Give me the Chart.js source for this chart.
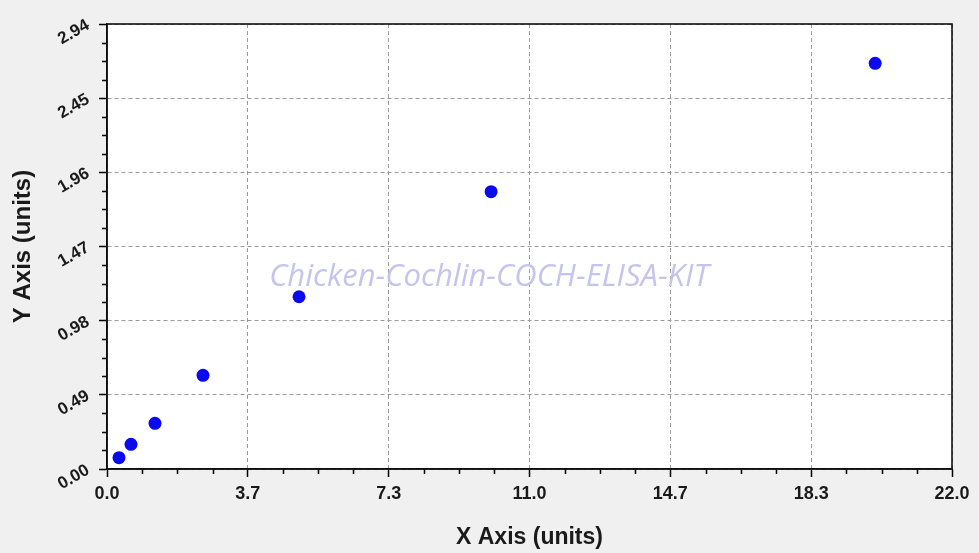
<!DOCTYPE html>
<html><head><meta charset="utf-8">
<script src="https://cdn.jsdelivr.net/npm/chart.js@4"></script>
<style>html,body{margin:0;padding:0;background:#f0f0f0;overflow:hidden}</style>
</head><body>
<canvas id="c" width="979" height="553"></canvas>
<script>
const X_VALUES = [0.3125, 0.625, 1.25, 2.5, 5, 10, 20];
const Y_VALUES = [0.075, 0.163, 0.302, 0.619, 1.138, 1.832, 2.680];
const X_TICK_LABELS = ['0.0', '3.7', '7.3', '11.0', '14.7', '18.3', '22.0'];
const Y_TICK_LABELS = ['0.00', '0.49', '0.98', '1.47', '1.96', '2.45', '2.94'];
const X_MAX = 22.0;
const Y_MAX = 2.94;
const X_TITLE = 'X Axis (units)';
const Y_TITLE = 'Y Axis (units)';
const WATERMARK = 'Chicken-Cochlin-COCH-ELISA-KIT';
const MINOR_PER_MAJOR = 4;

const FONT = '"Liberation Sans", Arial, sans-serif';

const bgPlugin = {
  id: 'bg',
  beforeDraw(chart) {
    const {ctx, chartArea: a} = chart;
    ctx.save();
    ctx.fillStyle = '#f0f0f0';
    ctx.fillRect(0, 0, chart.width, chart.height);
    ctx.fillStyle = '#ffffff';
    ctx.fillRect(a.left, a.top, a.right - a.left, a.bottom - a.top);
    ctx.restore();
  },
  beforeDatasetsDraw(chart) {
    const {ctx, chartArea: a, scales} = chart;
    ctx.save();
    // watermark
    ctx.font = 'italic 31px "Open Sans", "Noto Sans", sans-serif';
    ctx.fillStyle = '#c4c4ee';
    ctx.textAlign = 'center';
    ctx.textBaseline = 'alphabetic';
    ctx.fillText(WATERMARK, 489, 286);
    // minor ticks
    ctx.strokeStyle = '#000';
    ctx.lineWidth = 1.5;
    const xs = scales.x, ys = scales.y;
    const nx = (X_TICK_LABELS.length - 1) * MINOR_PER_MAJOR;
    for (let i = 1; i < nx; i++) {
      if (i % MINOR_PER_MAJOR === 0) continue;
      const px = Math.round(xs.getPixelForValue(i * X_MAX / nx)) + 0.5;
      ctx.beginPath(); ctx.moveTo(px, a.bottom); ctx.lineTo(px, a.bottom + 5); ctx.stroke();
    }
    const ny = (Y_TICK_LABELS.length - 1) * MINOR_PER_MAJOR;
    for (let i = 1; i < ny; i++) {
      if (i % MINOR_PER_MAJOR === 0) continue;
      const py = Math.round(ys.getPixelForValue(i * Y_MAX / ny)) + 0.5;
      ctx.beginPath(); ctx.moveTo(a.left - 5, py); ctx.lineTo(a.left, py); ctx.stroke();
    }
    // frame
    ctx.lineWidth = 1.6;
    ctx.strokeStyle = '#111';
    ctx.strokeRect(a.left, a.top, a.right - a.left, a.bottom - a.top);
    ctx.restore();
  }
};

new Chart(document.getElementById('c'), {
  type: 'scatter',
  data: {
    datasets: [{
      data: X_VALUES.map((x, i) => ({x: x, y: Y_VALUES[i]})),
      backgroundColor: '#0a0aee',
      borderColor: '#0a0aee',
      borderWidth: 0,
      pointRadius: 6.5,
      pointHoverRadius: 6.5
    }]
  },
  options: {
    responsive: false,
    animation: false,
    devicePixelRatio: 1,
    layout: {padding: {left: 0, top: 24, right: 27, bottom: 0}},
    plugins: {legend: {display: false}, tooltip: {enabled: false}},
    scales: {
      x: {
        type: 'linear',
        min: 0, max: X_MAX,
        afterBuildTicks(s) {
          s.ticks = X_TICK_LABELS.map((l, i) => ({value: i * X_MAX / (X_TICK_LABELS.length - 1)}));
        },
        afterFit(s) { s.height = 84; },
        ticks: {
          callback: (v, i) => X_TICK_LABELS[i],
          font: {family: FONT, weight: 'bold', size: 18},
          color: '#1a1a1a',
          padding: 6,
          maxRotation: 0, minRotation: 0,
          autoSkip: false
        },
        grid: {
          color: '#9a9a9a', lineWidth: 1,
          drawTicks: true, tickLength: 8, tickColor: '#000', tickWidth: 1.5, tickBorderDash: [1, 0]
        },
        border: {display: true, color: '#000', width: 1.5, dash: [4, 3]},
        title: {
          display: true, text: X_TITLE,
          font: {family: FONT, weight: 'bold', size: 23},
          color: '#1a1a1a',
          padding: {top: 0, bottom: 2}
        }
      },
      y: {
        type: 'linear',
        min: 0, max: Y_MAX,
        afterBuildTicks(s) {
          s.ticks = Y_TICK_LABELS.map((l, i) => ({value: i * Y_MAX / (Y_TICK_LABELS.length - 1)}));
        },
        afterFit(s) { s.width = 107; },
        ticks: {
          callback: (v, i) => Y_TICK_LABELS[i],
          font: {family: FONT, weight: 'bold', size: 17},
          color: '#1a1a1a',
          padding: 11,
          minRotation: 30, maxRotation: 30,
          autoSkip: false
        },
        grid: {
          color: '#9a9a9a', lineWidth: 1,
          drawTicks: true, tickLength: 8, tickColor: '#000', tickWidth: 1.5, tickBorderDash: [1, 0]
        },
        border: {display: true, color: '#000', width: 1.5, dash: [4, 3]},
        title: {
          display: true, text: Y_TITLE,
          font: {family: FONT, weight: 'bold', size: 24},
          color: '#1a1a1a',
          padding: {top: 9, bottom: 0}
        }
      }
    }
  },
  plugins: [bgPlugin]
});
</script>
</body></html>
